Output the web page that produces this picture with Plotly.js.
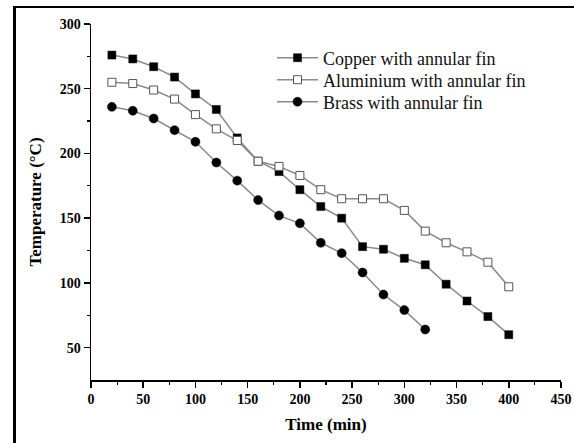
<!DOCTYPE html>
<html>
<head>
<meta charset="utf-8">
<script src="https://cdn.plot.ly/plotly-3.0.1.min.js"></script>
<style>
html,body{margin:0;padding:0;background:#fff;}
#chart{width:574px;height:443px;position:relative;}
#frame{position:absolute;left:13px;top:6px;width:600px;height:500px;border-left:3px solid #000;border-top:2px solid #000;pointer-events:none;}
#wrap{position:relative;width:574px;height:443px;overflow:hidden;}
</style>
</head>
<body>
<div id="wrap">
<div id="chart"></div>
<div id="frame"></div>
</div>
<script>
const time = [20,40,60,80,100,120,140,160,180,200,220,240,260,280,300,320,340,360,380,400];
const timeBrass = [20,40,60,80,100,120,140,160,180,200,220,240,260,280,300,320];
const copper = [276,273,267,259,246,234,212,194,186,172,159,150,128,126,119,114,99,86,74,60];
const aluminium = [255,254,249,242,230,219,210,194,190,183,172,165,165,165,156,140,131,124,116,97];
const brass = [236,233,227,218,209,193,179,164,152,146,131,123,108,91,79,64];
const names = ['Copper with annular fin','Aluminium with annular fin','Brass with annular fin'];
const xTicks = [0,50,100,150,200,250,300,350,400,450];
const yTicks = [50,100,150,200,250,300];

const lineStyle = {color:'#8a8a8a', width:1.5};
const traces = [
  {x:time, y:copper, name:names[0], legend:'legend', mode:'lines+markers', line:lineStyle,
   marker:{symbol:'square', size:8, color:'#000', line:{color:'#000', width:0.5}}},
  {x:time, y:aluminium, name:names[1], legend:'legend2', mode:'lines+markers', line:lineStyle,
   marker:{symbol:'square', size:8, color:'#fff', line:{color:'#555', width:1}}},
  {x:timeBrass, y:brass, name:names[2], legend:'legend3', mode:'lines+markers', line:lineStyle,
   marker:{symbol:'circle', size:9, color:'#000', line:{color:'#000', width:0.5}}}
];
const tickFont = {family:'Liberation Serif, Times New Roman, serif', size:14, color:'#000', weight:'bold'};
function leg(yc){
  return {x:(272-91)/470, y:1-(yc-24)/356, xanchor:'left', yanchor:'middle',
    bgcolor:'rgba(0,0,0,0)', itemwidth:41,
    font:{family:'Liberation Serif, Times New Roman, serif', size:18, color:'#111'}};
}
const layout = {
  width:574, height:443,
  margin:{l:91, r:13, t:24, b:63},
  paper_bgcolor:'#fff', plot_bgcolor:'#fff',
  showlegend:true,
  legend:leg(58), legend2:leg(80), legend3:leg(102),
  xaxis:{range:[0,450], tickvals:xTicks, ticktext:xTicks.map(String), showline:true, linecolor:'#000', linewidth:1.5,
    ticks:'outside', ticklen:6, tickwidth:1.5, tickcolor:'#000', showgrid:false, zeroline:false,
    tickfont:tickFont, minor:{tickvals:[25,75,125,175,225,275,325,375,425], ticks:'outside', ticklen:3, tickwidth:1.2, tickcolor:'#000', showgrid:false},
    title:{text:'<b>Time (min)</b>', standoff:12, font:{family:'Liberation Serif, Times New Roman, serif', size:17, color:'#000'}}},
  yaxis:{range:[25,300], tickvals:yTicks, ticktext:yTicks.map(String), showline:true, linecolor:'#000', linewidth:1.5,
    ticks:'outside', ticklen:6, tickwidth:1.5, tickcolor:'#000', showgrid:false, zeroline:false,
    tickfont:tickFont, minor:{tickvals:[75,125,175,225,275], ticks:'outside', ticklen:3, tickwidth:1.2, tickcolor:'#000', showgrid:false},
    title:{text:'<b>Temperature (°C)</b>', standoff:14, font:{family:'Liberation Serif, Times New Roman, serif', size:17, color:'#000'}}}
};
Plotly.newPlot('chart', traces, layout, {displayModeBar:false, staticPlot:true});
</script>
</body>
</html>
